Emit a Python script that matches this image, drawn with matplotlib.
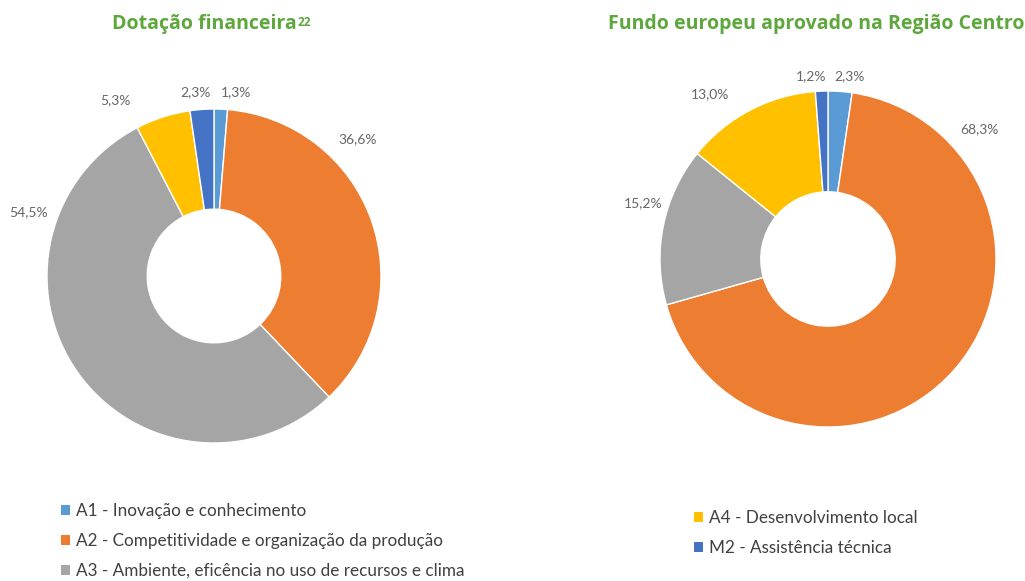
import matplotlib.pyplot as plt
from matplotlib.patches import Patch
from matplotlib.text import Annotation

# categories and values
categories = ['A1 - Inovação e conhecimento',
              'A2 - Competitividade e organização da produção',
              'A3 - Ambiente, eficência no uso de recursos e clima',
              'A4 - Desenvolvimento local',
              'M2 - Assistência técnica']
dotacao = [1.3, 36.6, 54.5, 5.3, 2.3]
fundo = [2.3, 68.3, 15.2, 13.0, 1.2]
colors = ['#5B9BD5', '#ED7D31', '#A5A5A5', '#FFC000', '#4472C4']

title_left = 'Dotação financeira'
title_right = 'Fundo europeu aprovado na Região Centro'

# label positions (axes units, radius = 1)
pos_left = [(0.13, 1.10), (0.86, 0.82), (-1.11, 0.38), (-0.59, 1.05), (-0.11, 1.10)]
pos_right = [(0.13, 1.09), (0.90, 0.77), (-1.10, 0.33), (-0.70, 0.98), (-0.10, 1.09)]

GREEN = '#5DA73C'
W, H = 1025, 581

fig = plt.figure(figsize=(W / 100, H / 100), dpi=100)
plt.rcParams['font.family'] = ['Lato', 'DejaVu Sans']


def donut(cx, cy, r, values, positions):
    ax = fig.add_axes([(cx - r) / W, (H - cy - r) / H, 2 * r / W, 2 * r / H])
    ax.pie(values, colors=colors, startangle=90, counterclock=False, radius=1,
           wedgeprops=dict(width=0.6, edgecolor='white', linewidth=1))
    ax.set_xlim(-1, 1)
    ax.set_ylim(-1, 1)
    ax.axis('off')
    for v, (x, y) in zip(values, positions):
        ax.text(x, y, f'{v:.1f}%'.replace('.', ','), ha='center', va='center',
                fontsize=10, color='#666666', clip_on=False)
    return ax


donut(214, 276, 167, dotacao, pos_left)
donut(828, 259, 168, fundo, pos_right)

# titles
t1 = fig.text(204 / W, 1 - 24 / H, title_left, ha='center', va='center',
              fontsize=14, fontweight='bold', color=GREEN, family='Open Sans')
sup = Annotation('22', xy=(1, 0.88), xycoords=t1, xytext=(1, 0), textcoords='offset points',
                 fontsize=8.5, fontweight='bold', color=GREEN, family='Open Sans',
                 va='top', ha='left', annotation_clip=False)
fig.add_artist(sup)
fig.text(816 / W, 1 - 24 / H, title_right, ha='center', va='center',
         fontsize=14, fontweight='bold', color=GREEN, family='Open Sans')

# legends
handles = [Patch(facecolor=c, edgecolor='none') for c in colors]
legend_font = dict(family='Lato', size=12.3)
fig.legend(handles[:3], categories[:3], loc='upper left',
           bbox_to_anchor=(46 / W, 1 - 488 / H), frameon=False,
           handlelength=0.5, handleheight=0.5, handletextpad=0.35,
           labelspacing=0.8, prop=legend_font, labelcolor='#404040')
fig.legend(handles[3:], categories[3:], loc='upper left',
           bbox_to_anchor=(679 / W, 1 - 495 / H), frameon=False,
           handlelength=0.5, handleheight=0.5, handletextpad=0.35,
           labelspacing=0.8, prop=legend_font, labelcolor='#404040')

fig.savefig('out.png', dpi=100)
